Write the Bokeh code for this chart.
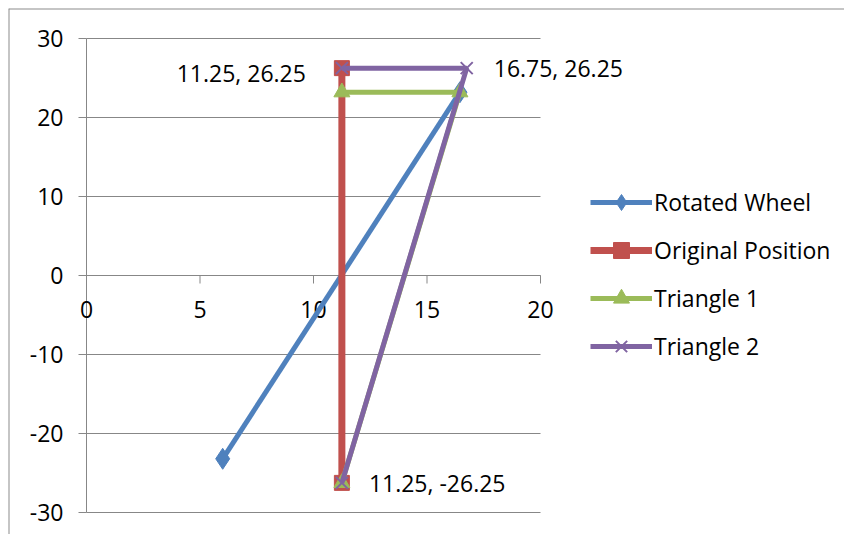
import math
from bokeh.plotting import figure
from bokeh.models import (Range1d, Legend, LegendItem, Span, InlineStyleSheet)
from bokeh.core.properties import value
from bokeh.embed import file_html
from bokeh.resources import INLINE

# ---- data ----
series_names = ["Rotated Wheel", "Original Position", "Triangle 1", "Triangle 2"]
wheel_x = [6.0, 16.45]
wheel_y = [-23.2, 23.2]
orig_x = [11.25, 11.25]
orig_y = [26.25, -26.25]
tri1_x = [11.25, 16.45, 11.25]
tri1_y = [-26.25, 23.2, 23.2]
tri2_x = [11.25, 16.75, 11.25]
tri2_y = [-26.25, 26.25, 26.25]

x_ticks = [0, 5, 10, 15, 20]
y_ticks = [-30, -20, -10, 0, 10, 20, 30]

label_left_x = [11.25]
label_left_y = [26.25]
label_right_x = [16.75, 11.25]
label_right_y = [26.25, -26.25]

# ---- layout (pixels on the page) ----
W, H = 836, 526           # canvas size, placed at page (8, 8)
OX, OY = 8, 8
PX_LO, PX_HI = 86, 540    # page x of first / last x tick
PY_HI, PY_LO = 38, 512    # page y of top / bottom y tick

xlo, xhi = min(x_ticks), max(x_ticks)
ylo, yhi = min(y_ticks), max(y_ticks)
sx = (PX_HI - PX_LO) / (xhi - xlo)
sy = (PY_LO - PY_HI) / (yhi - ylo)
x_start = xlo - (PX_LO - OX) / sx
x_end = xhi + (OX + W - PX_HI) / sx
y_end = yhi + (PY_HI - OY) / sy
y_start = ylo - (OY + H - PY_LO) / sy

FONT = "Open Sans"
FS = "23px"
GRAY = "#878787"
BORDER = "#8c8c8c"
colors = ["#4F81BD", "#C0504D", "#9BBB59", "#8064A2"]

p = figure(width=W, height=H, min_border=0,
           x_range=Range1d(x_start, x_end), y_range=Range1d(y_start, y_end),
           output_backend="svg", toolbar_location=None)
p.stylesheets = [InlineStyleSheet(css=":host { margin-left: 8px; margin-top: 8px; }")]
p.outline_line_color = None
p.xaxis.visible = False
p.yaxis.visible = False
p.xgrid.visible = False
p.ygrid.visible = False

# chart border (top and left edges of the chart area)
p.add_layout(Span(location=x_start, dimension="height", line_color=BORDER, line_width=2))
p.add_layout(Span(location=y_end, dimension="width", line_color=BORDER, line_width=2))

# horizontal gridlines
p.segment(x0=[xlo] * len(y_ticks), y0=y_ticks, x1=[xhi] * len(y_ticks), y1=y_ticks,
          line_color=GRAY, line_width=1)

# y axis at x = 0
p.segment(x0=[xlo], y0=[ylo], x1=[xlo], y1=[yhi], line_color=GRAY, line_width=1)
p.ray(x=[xlo] * len(y_ticks), y=y_ticks, length=8, length_units="screen",
      angle=math.pi, line_color=GRAY, line_width=1)
p.text(x=[xlo] * len(y_ticks), y=y_ticks, text=[str(t) for t in y_ticks],
       text_font=value(FONT), text_font_size=FS, text_align="right",
       text_baseline="middle", x_offset=-23, y_offset=0, text_color="#000000")

# x axis at y = 0
p.segment(x0=[xlo], y0=[0], x1=[xhi], y1=[0], line_color=GRAY, line_width=1)
p.ray(x=x_ticks, y=[0] * len(x_ticks), length=8, length_units="screen",
      angle=-math.pi / 2, line_color=GRAY, line_width=1)
p.text(x=x_ticks, y=[0] * len(x_ticks), text=[str(t) for t in x_ticks],
       text_font=value(FONT), text_font_size=FS, text_align="center",
       text_baseline="middle", y_offset=34, text_color="#000000")

LW = 5
items = []
r1 = p.line(wheel_x, wheel_y, line_color=colors[0], line_width=LW)
m1 = p.scatter(wheel_x, wheel_y, marker="diamond", size=21,
               fill_color=colors[0], line_color=colors[0])
items.append(LegendItem(label=series_names[0], renderers=[r1, m1]))

r2 = p.line(orig_x, orig_y, line_color=colors[1], line_width=7)
m2 = p.scatter(orig_x, orig_y, marker="square", size=15,
               fill_color=colors[1], line_color=colors[1])
items.append(LegendItem(label=series_names[1], renderers=[r2, m2]))

r3 = p.line(tri1_x, tri1_y, line_color=colors[2], line_width=LW)
m3 = p.scatter(tri1_x, tri1_y, marker="triangle", size=16,
               fill_color=colors[2], line_color=colors[2])
items.append(LegendItem(label=series_names[2], renderers=[r3, m3]))

r4 = p.line(tri2_x, tri2_y, line_color=colors[3], line_width=LW)
m4 = p.scatter(tri2_x, tri2_y, marker="x", size=17,
               line_color=colors[3], line_width=2)
items.append(LegendItem(label=series_names[3], renderers=[r4, m4]))

# data labels
p.text(x=label_left_x, y=label_left_y,
       text=[f"{x:.2f}, {y:.2f}" for x, y in zip(label_left_x, label_left_y)],
       text_font=value(FONT), text_font_size=FS, text_align="right",
       text_baseline="middle", x_offset=-36, y_offset=5, text_color="#000000")
p.text(x=label_right_x, y=label_right_y,
       text=[f"{x:.2f}, {y:.2f}" for x, y in zip(label_right_x, label_right_y)],
       text_font=value(FONT), text_font_size=FS, text_align="left",
       text_baseline="middle", x_offset=27, y_offset=0, text_color="#000000")

legend = Legend(items=items, location=(590 - OX, OY + H - 366), orientation="vertical")
legend.margin = 0
legend.padding = 0
legend.border_line_color = None
legend.background_fill_alpha = 0
legend.label_text_font = FONT
legend.label_text_font_size = FS
legend.label_text_color = "#000000"
legend.glyph_width = 62
legend.glyph_height = 40
legend.label_standoff = 2
legend.spacing = 8
p.add_layout(legend, "center")

with open("out.html", "w") as f:
    f.write(file_html(p, INLINE))
